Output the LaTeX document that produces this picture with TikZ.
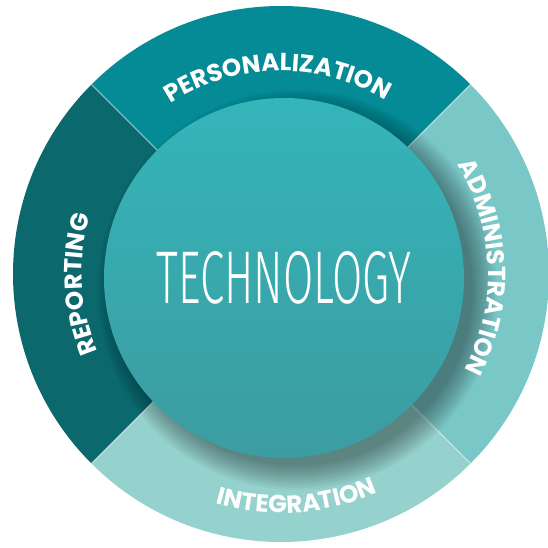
\documentclass[tikz,border=0pt]{standalone}
\usepackage{fontspec}
\usetikzlibrary{decorations.text}
\newfontfamily\ringfont{Poppins}
\newfontfamily\techfont{Fira Sans Light}
\newcommand{\ringstyle}{\ringfont\bfseries\fontsize{14}{17}\selectfont}
\definecolor{persocol}{RGB}{4,139,150}
\definecolor{reportcol}{RGB}{11,104,109}
\definecolor{admincol}{RGB}{122,199,200}
\definecolor{integcol}{RGB}{149,209,205}
\definecolor{coretop}{RGB}{52,181,185}
\definecolor{corebot}{RGB}{60,156,161}
\tikzset{
  ringlabel/.style={decorate, decoration={text along path, text align=center,
      text color=white, text={|\ringstyle|#1}}},
  divider/.style={white, opacity=0.45, line width=0.8}
}
\begin{document}
\begin{tikzpicture}[x=0.02cm,y=0.02cm]
    \useasboundingbox (-281,-274) rectangle (267,274);

    % Anillo exterior (cuatro sectores)
    \fill[persocol]  (0,0) -- (45:268)  arc[start angle=45,  end angle=135, radius=268] -- cycle;
    \fill[reportcol] (0,0) -- (135:268) arc[start angle=135, end angle=225, radius=268] -- cycle;
    \fill[integcol]  (0,0) -- (225:268) arc[start angle=225, end angle=315, radius=268] -- cycle;
    \fill[admincol]  (0,0) -- (-45:268) arc[start angle=-45, end angle=45,  radius=268] -- cycle;

    % Separadores
    \foreach \a in {45,135,225,315}
        \draw[divider] (\a:150) -- (\a:268);

    % Sombra del circulo central
    \foreach \r in {176,178,...,200}
        \fill[black, opacity=0.03] (16,-16) circle[radius=\r];

    % Circulo central
    \shade[top color=coretop, bottom color=corebot] (3,-4) circle[radius=180];
    \node (tech) at (3,-4) {\resizebox{5.1cm}{1.04cm}{\color{white}\techfont TECHNOLOGY}};

    % Rotulos del anillo
    \path[ringlabel=PERSONALIZATION] (151:203) arc[start angle=151, end angle=31, radius=203];
    \path[ringlabel=ADMINISTRATION]  (62:207)  arc[start angle=62,  end angle=-58, radius=207];
    \path[ringlabel=REPORTING]       (233:199) arc[start angle=233, end angle=133, radius=199];
    \path[ringlabel=INTEGRATION]     (224:239) arc[start angle=224, end angle=324, radius=239];
\end{tikzpicture}
\end{document}
